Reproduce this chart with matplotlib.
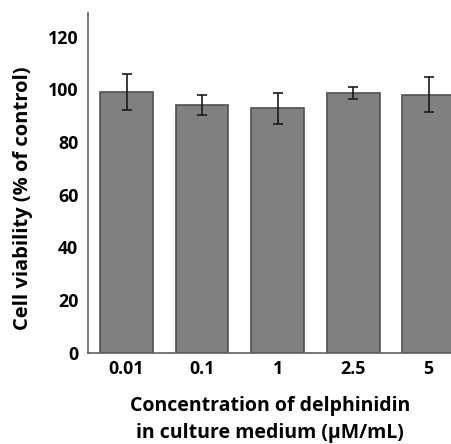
import matplotlib
matplotlib.use('Agg')
import matplotlib.pyplot as plt

# donnees
concentrations = ['0.01', '0.1', '1', '2.5', '5']
viabilite = [99.0, 94.0, 92.8, 98.5, 98.0]
erreurs = [7.0, 3.7, 6.0, 2.3, 6.6]

plt.rcParams['font.family'] = ['Open Sans', 'DejaVu Sans']
plt.rcParams['font.weight'] = 'bold'

fig = plt.figure(figsize=(4.52, 4.44), dpi=100)
ax = fig.add_axes([88 / 452, 91.3 / 444, 364 / 452, 339.7 / 444])

x = range(len(concentrations))
ax.bar(x, viabilite, width=0.7, color='#808080', edgecolor='#505050', linewidth=1.2,
       yerr=erreurs, capsize=3.5, error_kw={'elinewidth': 1.2, 'capthick': 1.2, 'ecolor': '#1a1a1a'})

ax.set_xlim(-0.51, 4.31)
ax.set_ylim(0, 129)
ax.set_yticks([0, 20, 40, 60, 80, 100, 120])
ax.set_xticks(list(x))
ax.set_xticklabels(concentrations)

for s in ['top', 'right']:
    ax.spines[s].set_visible(False)
for s in ['left', 'bottom']:
    ax.spines[s].set_color('#606060')
    ax.spines[s].set_linewidth(1.2)

ax.tick_params(axis='both', length=0, labelsize=12.8)
ax.tick_params(axis='y', pad=7)
ax.tick_params(axis='x', pad=5)

ax.set_ylabel('Cell viability (% of control)', fontsize=14.5, fontweight='bold')
ax.yaxis.set_label_coords(-0.15, 0.455)
ax.set_xlabel('Concentration of delphinidin\nin culture medium (\u03bcM/mL)', fontsize=14,
              fontweight='bold', linespacing=1.5, labelpad=13)

fig.savefig('out.png', dpi=100)
